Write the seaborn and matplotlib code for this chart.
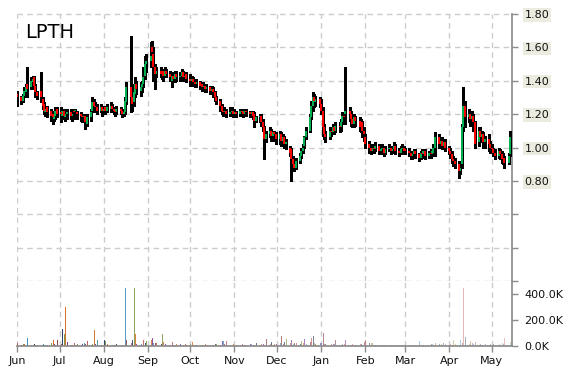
import numpy as np
import pandas as pd
import matplotlib
matplotlib.use("Agg")
import matplotlib.pyplot as plt
import matplotlib.dates as mdates
import seaborn as sns

ticker = "LPTH"

# ---- daily OHLC, grouped by month ----
open_jun = [1.32,1.30,1.28,1.31,1.33,1.38,1.36,1.39,1.42,1.37,1.33,1.34,1.29,1.26,1.21,1.24,1.22,1.20,1.17,1.19,1.23]
high_jun = [1.34,1.31,1.32,1.36,1.38,1.48,1.42,1.43,1.43,1.38,1.34,1.45,1.30,1.27,1.25,1.25,1.23,1.21,1.22,1.24,1.24]
low_jun  = [1.25,1.26,1.27,1.30,1.32,1.30,1.35,1.36,1.35,1.30,1.29,1.27,1.23,1.20,1.19,1.18,1.16,1.14,1.16,1.17,1.18]
close_jun= [1.30,1.28,1.31,1.34,1.36,1.35,1.40,1.41,1.37,1.33,1.31,1.30,1.25,1.22,1.23,1.21,1.19,1.18,1.20,1.22,1.20]

open_jul = [1.21,1.19,1.22,1.18,1.20,1.21,1.19,1.22,1.22,1.21,1.20,1.19,1.18,1.19,1.14,1.18,1.22,1.27,1.25,1.24,1.22,1.24]
high_jul = [1.24,1.23,1.23,1.22,1.23,1.23,1.22,1.23,1.23,1.22,1.21,1.20,1.20,1.19,1.20,1.23,1.30,1.29,1.27,1.26,1.26,1.25]
low_jul  = [1.15,1.17,1.17,1.16,1.17,1.17,1.16,1.17,1.19,1.17,1.16,1.15,1.16,1.11,1.13,1.16,1.21,1.22,1.21,1.20,1.21,1.19]
close_jul= [1.20,1.22,1.19,1.20,1.21,1.19,1.20,1.21,1.22,1.20,1.19,1.18,1.19,1.15,1.18,1.21,1.27,1.25,1.24,1.22,1.24,1.22]

open_aug = [1.22,1.24,1.22,1.23,1.25,1.23,1.22,1.21,1.23,1.22,1.20,1.21,1.27,1.36,1.30,1.27,1.32,1.38,1.34,1.36,1.38,1.43,1.50]
high_aug = [1.25,1.25,1.26,1.27,1.26,1.24,1.24,1.25,1.24,1.23,1.23,1.30,1.39,1.67,1.34,1.38,1.42,1.40,1.39,1.40,1.48,1.55,1.56]
low_aug  = [1.20,1.20,1.21,1.21,1.21,1.20,1.19,1.20,1.20,1.18,1.19,1.20,1.26,1.21,1.22,1.25,1.30,1.32,1.31,1.33,1.36,1.41,1.45]
close_aug= [1.23,1.22,1.24,1.25,1.23,1.22,1.21,1.23,1.22,1.20,1.21,1.28,1.36,1.30,1.26,1.33,1.38,1.35,1.36,1.38,1.42,1.50,1.52]

open_sep = [1.52,1.60,1.56,1.48,1.44,1.46,1.44,1.46,1.43,1.46,1.44,1.40,1.43,1.41,1.44,1.42,1.43,1.45,1.42,1.44]
high_sep = [1.63,1.64,1.60,1.50,1.48,1.48,1.47,1.47,1.48,1.47,1.46,1.45,1.45,1.46,1.46,1.45,1.47,1.46,1.45,1.45]
low_sep  = [1.48,1.53,1.40,1.35,1.42,1.42,1.41,1.40,1.42,1.42,1.40,1.36,1.39,1.39,1.40,1.40,1.41,1.40,1.40,1.39]
close_sep= [1.55,1.57,1.48,1.44,1.46,1.44,1.45,1.43,1.46,1.44,1.42,1.43,1.41,1.44,1.42,1.43,1.45,1.42,1.43,1.41]

open_oct = [1.41,1.40,1.41,1.39,1.38,1.39,1.38,1.36,1.37,1.35,1.36,1.34,1.35,1.33,1.30,1.28,1.25,1.22,1.21,1.22,1.20,1.21,1.22]
high_oct = [1.44,1.43,1.42,1.41,1.41,1.40,1.39,1.39,1.38,1.38,1.37,1.37,1.36,1.34,1.31,1.29,1.26,1.24,1.24,1.23,1.24,1.24,1.23]
low_oct  = [1.37,1.38,1.37,1.36,1.36,1.35,1.34,1.34,1.33,1.33,1.32,1.32,1.30,1.28,1.26,1.22,1.20,1.19,1.19,1.18,1.19,1.19,1.18]
close_oct= [1.40,1.41,1.39,1.38,1.39,1.37,1.36,1.37,1.35,1.36,1.34,1.35,1.33,1.30,1.28,1.25,1.22,1.21,1.22,1.20,1.21,1.22,1.20]

open_nov = [1.20,1.21,1.20,1.22,1.21,1.20,1.22,1.21,1.20,1.21,1.20,1.16,1.18,1.19,1.15,1.12,1.05,1.08,1.10,1.07,1.09,1.08]
high_nov = [1.23,1.22,1.23,1.23,1.22,1.23,1.23,1.22,1.22,1.22,1.21,1.19,1.20,1.20,1.17,1.13,1.10,1.12,1.11,1.10,1.10,1.09]
low_nov  = [1.19,1.18,1.19,1.19,1.18,1.19,1.19,1.18,1.18,1.17,1.12,1.15,1.15,1.13,1.10,0.93,1.03,1.06,1.04,1.05,1.04,1.02]
close_nov= [1.21,1.20,1.22,1.21,1.20,1.22,1.21,1.20,1.21,1.19,1.16,1.18,1.19,1.15,1.12,1.05,1.08,1.10,1.07,1.09,1.08,1.05]

open_dec = [1.05,1.08,1.04,1.06,1.02,1.00,0.99,0.93,0.90,0.88,0.92,0.95,0.98,1.01,1.06,1.10,1.18,1.25,1.30,1.27,1.29]
high_dec = [1.10,1.09,1.08,1.07,1.05,1.01,1.00,0.95,0.93,0.94,0.97,1.00,1.02,1.07,1.12,1.20,1.28,1.33,1.32,1.31,1.30]
low_dec  = [1.02,1.01,1.02,1.00,0.99,0.95,0.80,0.87,0.86,0.87,0.91,0.94,0.97,1.00,1.05,1.09,1.17,1.22,1.24,1.25,1.24]
close_dec= [1.08,1.04,1.06,1.02,1.03,0.97,0.93,0.90,0.88,0.92,0.95,0.98,1.00,1.06,1.10,1.18,1.25,1.30,1.28,1.29,1.26]

open_jan = [1.26,1.22,1.12,1.08,1.06,1.10,1.09,1.12,1.10,1.13,1.12,1.15,1.19,1.20,1.22,1.20,1.17,1.14,1.18,1.16,1.12,1.15,1.10]
high_jan = [1.29,1.24,1.14,1.10,1.12,1.12,1.14,1.14,1.15,1.15,1.17,1.21,1.21,1.48,1.24,1.22,1.19,1.20,1.19,1.18,1.17,1.16,1.12]
low_jan  = [1.20,1.07,1.05,1.03,1.05,1.07,1.08,1.08,1.09,1.09,1.10,1.14,1.16,1.14,1.16,1.13,1.12,1.12,1.13,1.10,1.09,1.06,1.04]
close_jan= [1.22,1.12,1.08,1.06,1.10,1.09,1.12,1.10,1.13,1.12,1.15,1.19,1.18,1.22,1.20,1.17,1.14,1.18,1.16,1.12,1.15,1.10,1.08]

open_feb = [1.06,1.02,1.00,0.98,1.00,0.99,1.01,0.98,0.99,1.00,0.97,0.99,1.00,0.98,0.99,1.01,0.98,0.97,0.99,1.00]
high_feb = [1.08,1.04,1.02,1.02,1.01,1.03,1.02,1.01,1.02,1.01,1.01,1.02,1.01,1.01,1.03,1.02,1.00,1.01,1.02,1.01]
low_feb  = [1.00,0.97,0.96,0.97,0.97,0.98,0.96,0.96,0.98,0.95,0.96,0.98,0.96,0.97,0.98,0.96,0.95,0.96,0.98,0.96]
close_feb= [1.02,1.00,0.98,1.00,0.99,1.01,0.98,0.99,1.00,0.97,0.99,1.00,0.98,0.99,1.01,0.98,0.97,0.99,1.00,0.98]

open_mar = [0.99,0.98,0.97,0.95,0.96,0.98,0.96,0.94,0.97,0.96,0.98,0.95,0.97,0.96,0.97,1.00,1.06,1.02,1.04,1.01,1.03]
high_mar = [1.00,1.00,0.98,0.98,0.99,0.99,0.97,0.98,0.99,0.99,0.99,0.98,0.99,0.99,1.02,1.09,1.08,1.06,1.06,1.05,1.05]
low_mar  = [0.96,0.95,0.93,0.93,0.95,0.94,0.92,0.93,0.94,0.95,0.93,0.94,0.94,0.95,0.96,0.95,1.00,1.00,0.99,0.99,0.98]
close_mar= [0.98,0.97,0.95,0.96,0.98,0.96,0.94,0.97,0.96,0.98,0.95,0.97,0.96,0.98,1.00,1.06,1.02,1.04,1.01,1.03,1.00]

open_apr = [1.00,0.98,0.96,0.93,0.92,0.90,0.86,0.90,1.12,1.25,1.18,1.20,1.17,1.19,1.15,1.03,1.10,1.06,1.08,1.03,1.05,1.02]
high_apr = [1.01,1.00,0.98,0.95,0.94,0.92,0.90,1.14,1.36,1.28,1.23,1.22,1.22,1.20,1.16,1.12,1.12,1.10,1.09,1.07,1.08,1.04]
low_apr  = [0.96,0.94,0.91,0.89,0.88,0.82,0.84,0.88,1.10,1.12,1.15,1.13,1.14,1.10,1.00,1.01,1.03,1.03,1.00,1.00,0.98,0.97]
close_apr= [0.98,0.96,0.93,0.92,0.90,0.86,0.88,1.12,1.25,1.18,1.20,1.17,1.19,1.15,1.02,1.10,1.06,1.08,1.03,1.05,1.02,1.00]

open_may = [1.00,0.99,0.97,0.95,0.98,0.96,0.93,0.94,0.91,0.96]
high_may = [1.02,1.00,0.99,1.00,0.99,0.98,0.97,0.95,0.97,1.10]
low_may  = [0.97,0.95,0.93,0.94,0.93,0.91,0.90,0.88,0.90,0.95]
close_may= [0.99,0.97,0.95,0.98,0.96,0.93,0.94,0.91,0.95,1.06]

# daily volume in thousands
vol_jun = [22,5,12,15,10,60,8,10,12,6,8,10,12,10,8,10,20,50,15,10,50]
vol_jul = [15,130,95,300,30,10,8,20,10,12,8,15,20,15,40,10,15,120,12,50,10,8]
vol_aug = [50,35,15,10,8,10,8,12,8,10,10,450,45,20,50,450,90,15,12,10,45,20,40]
vol_sep = [45,62,25,20,25,15,90,30,12,10,8,30,10,8,12,15,10,8,12,10]
vol_oct = [12,30,8,10,6,8,5,10,12,8,6,10,8,12,15,10,40,38,15,40,8,10,12]
vol_nov = [8,10,6,12,5,8,10,12,15,10,8,25,10,12,15,10,55,12,30,10,15,12]
vol_dec = [20,75,15,30,55,20,45,15,20,25,15,35,20,55,15,30,65,80,20,15,25]
vol_jan = [20,100,15,12,10,15,12,18,45,10,8,12,15,45,10,8,12,10,8,12,15,10,30]
vol_feb = [45,20,25,22,10,8,6,8,10,6,8,5,6,8,10,6,5,8,6,5]
vol_mar = [6,5,8,6,5,8,35,10,8,6,8,10,12,15,10,20,18,12,10,20,15]
vol_apr = [10,12,8,45,15,10,45,20,450,70,15,35,20,15,30,10,12,8,10,15,10,12]
vol_may = [10,12,8,15,10,25,12,65,10,30]

price_ticks = [0.2, 0.4, 0.6, 0.8, 1.0, 1.2, 1.4, 1.6, 1.8]
price_labels = ["", "", "", "0.80", "1.00", "1.20", "1.40", "1.60", "1.80"]
vol_ticks = [0, 200, 400]
vol_labels = ["0.0K", "200.0K", "400.0K"]
month_labels = ["Jun", "Jul", "Aug", "Sep", "Oct", "Nov", "Dec", "Jan", "Feb", "Mar", "Apr", "May"]

months = ["jun","jul","aug","sep","oct","nov","dec","jan","feb","mar","apr","may"]
g = globals()
o = sum((g["open_" + m] for m in months), [])
h = sum((g["high_" + m] for m in months), [])
l = sum((g["low_" + m] for m in months), [])
c = sum((g["close_" + m] for m in months), [])
v = sum((g["vol_" + m] for m in months), [])
dates = pd.bdate_range("2018-06-01", periods=len(c))
df = pd.DataFrame({"date": dates, "open": o, "high": h, "low": l, "close": c, "vol": v})

# ---- figure ----
sns.set_theme(style="white")
plt.rcParams["font.family"] = ["DejaVu Sans"]
W, H = 570, 370
fig = plt.figure(figsize=(W / 100, H / 100), dpi=100)
fig.patch.set_facecolor("white")

def frac(x0, y0, x1, y1):
    return [x0 / W, 1 - y1 / H, (x1 - x0) / W, (y1 - y0) / H]

axp = fig.add_axes(frac(17, 14, 512, 281))
axv = fig.add_axes(frac(17, 281, 512, 346), sharex=axp)

x = mdates.date2num(df["date"])
up = (df["close"] >= df["open"]).to_numpy()
body_lo = np.minimum(df["open"], df["close"]).to_numpy()
body_hi = np.maximum(df["open"], df["close"]).to_numpy()
body_hi = np.maximum(body_hi, body_lo + 0.006)

axp.vlines(x, df["low"], df["high"], color="black", lw=1.0, zorder=3, antialiased=False)
axp.vlines(x[up], body_lo[up], body_hi[up], color="#00b050", lw=1.3, zorder=4, antialiased=False)
axp.vlines(x[~up], body_lo[~up], body_hi[~up], color="#ff0000", lw=1.3, zorder=4, antialiased=False)

palette = ["#c0504d", "#1f3864", "#77933c", "#d2691e", "#7030a0", "#3a8fb7", "#843c3c"]
n = len(df)
alphas = np.linspace(1.0, 0.35, n)
for i in range(n):
    axv.vlines(x[i], 0, df["vol"].iloc[i], color=palette[i % 7], alpha=alphas[i], lw=0.72,
               antialiased=False)

month_starts = pd.date_range("2018-06-01", periods=12, freq="MS")
ms = mdates.date2num(month_starts)
x_left = mdates.date2num(pd.Timestamp("2018-06-01"))
x_right = x_left + 348.3
axp.set_xlim(x_left, x_right)

grid_kw = dict(color="#cccccc", lw=1.0, ls=(0, (4, 3)))
for ax in (axp, axv):
    for m in ms:
        ax.axvline(m, zorder=0, **grid_kw)
for p in price_ticks:
    axp.axhline(p, zorder=0, clip_on=False, **grid_kw)

axp.set_ylim(0.2, 1.8)
axv.set_ylim(0, 500)

spine_col = "#8c8c8c"
for ax in (axp, axv):
    for s in ["left", "top", "bottom"]:
        ax.spines[s].set_visible(False)
    ax.spines["right"].set_visible(True)
    ax.spines["right"].set_color(spine_col)
    ax.yaxis.tick_right()
    ax.tick_params(axis="y", direction="out", length=4, width=1, color=spine_col,
                   labelsize=8, labelcolor="#111111", pad=5, right=True, left=False)
axv.spines["bottom"].set_visible(True)
axv.spines["bottom"].set_color(spine_col)

axp.set_yticks(price_ticks)
axp.set_yticklabels(price_labels)
for t in axp.get_yticklabels():
    t.set_bbox(dict(facecolor="#ecebdf", edgecolor="none", pad=1.2))
axv.set_yticks(vol_ticks)
axv.set_yticklabels(vol_labels)

axp.tick_params(axis="x", bottom=False, labelbottom=False)
axv.set_xticks(ms)
axv.set_xticklabels(month_labels)
axv.tick_params(axis="x", direction="out", length=4, width=1, color=spine_col,
                labelsize=8, labelcolor="#111111", pad=3, bottom=True)
axp.set_xlabel("")
axv.set_xlabel("")

fig.text(25 / W, 1 - 38 / H, ticker, fontsize=14, color="#000000", va="baseline", ha="left")

fig.savefig("out.png", dpi=100, facecolor="white")
